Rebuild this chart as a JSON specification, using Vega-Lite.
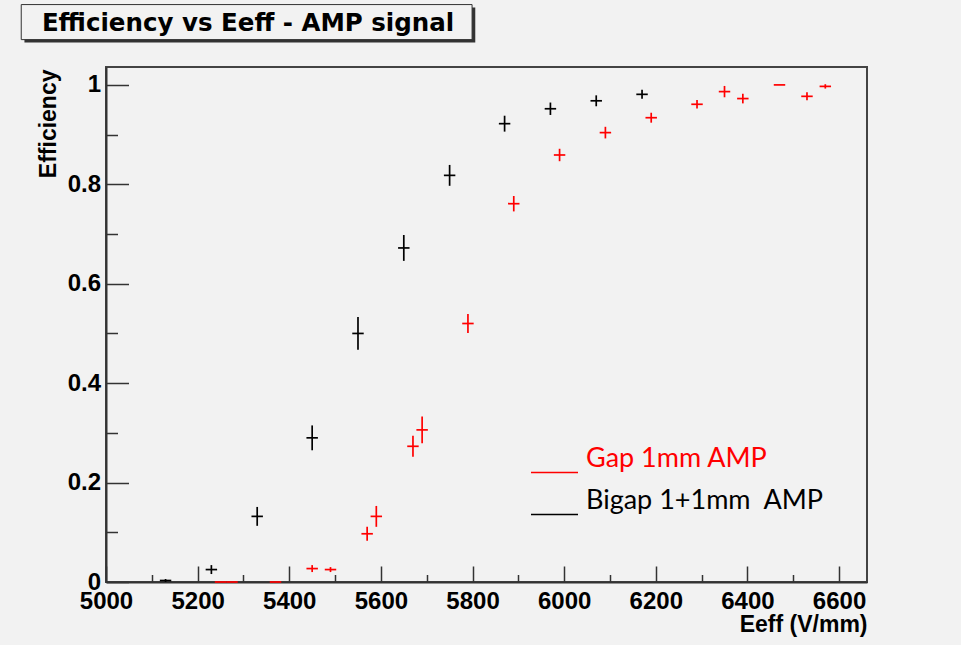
{
  "$schema": "https://vega.github.io/schema/vega-lite/v6.json",
  "width": 761,
  "height": 515,
  "autosize": {"type": "none"},
  "padding": {"left": 106, "top": 67, "right": 94, "bottom": 63},
  "background": "#f2f2f2",
  "config": {
    "view": {"stroke": "#444444", "strokeWidth": 2},
    "axis": {
      "grid": false,
      "labelFont": "Liberation Sans",
      "labelFontWeight": "bold",
      "labelFontSize": 24,
      "labelColor": "#000000",
      "labelFlush": false,
      "labelOverlap": false,
      "tickColor": "#333333",
      "tickWidth": 1.5,
      "domainColor": "#333333",
      "domainWidth": 2,
      "titleFont": "Liberation Sans",
      "titleFontWeight": "bold",
      "titleFontSize": 23,
      "titleColor": "#000000"
    }
  },
  "datasets": {
    "points": [
      {"series": "Bigap 1+1mm\u00a0 AMP", "E": 5130, "eff": 0.003, "ey": 0.003, "ex": 12.5},
      {"series": "Bigap 1+1mm\u00a0 AMP", "E": 5230, "eff": 0.025, "ey": 0.009, "ex": 12.5},
      {"series": "Bigap 1+1mm\u00a0 AMP", "E": 5330, "eff": 0.132, "ey": 0.019, "ex": 12.5},
      {"series": "Bigap 1+1mm\u00a0 AMP", "E": 5450, "eff": 0.290, "ey": 0.025, "ex": 12.5},
      {"series": "Bigap 1+1mm\u00a0 AMP", "E": 5550, "eff": 0.500, "ey": 0.033, "ex": 12.5},
      {"series": "Bigap 1+1mm\u00a0 AMP", "E": 5650, "eff": 0.672, "ey": 0.026, "ex": 12.5},
      {"series": "Bigap 1+1mm\u00a0 AMP", "E": 5750, "eff": 0.818, "ey": 0.021, "ex": 12.5},
      {"series": "Bigap 1+1mm\u00a0 AMP", "E": 5870, "eff": 0.922, "ey": 0.016, "ex": 12.5},
      {"series": "Bigap 1+1mm\u00a0 AMP", "E": 5970, "eff": 0.952, "ey": 0.0125, "ex": 12.5},
      {"series": "Bigap 1+1mm\u00a0 AMP", "E": 6070, "eff": 0.968, "ey": 0.011, "ex": 12.5},
      {"series": "Bigap 1+1mm\u00a0 AMP", "E": 6170, "eff": 0.981, "ey": 0.009, "ex": 12.5},
      {"series": "Gap 1mm AMP", "E": 5250, "eff": 0.0, "ey": 0.0, "ex": 12.5},
      {"series": "Gap 1mm AMP", "E": 5275, "eff": 0.0, "ey": 0.0, "ex": 12.5},
      {"series": "Gap 1mm AMP", "E": 5370, "eff": 0.0, "ey": 0.0, "ex": 12.5},
      {"series": "Gap 1mm AMP", "E": 5450, "eff": 0.027, "ey": 0.007, "ex": 12.5},
      {"series": "Gap 1mm AMP", "E": 5490, "eff": 0.025, "ey": 0.005, "ex": 12.5},
      {"series": "Gap 1mm AMP", "E": 5570, "eff": 0.097, "ey": 0.014, "ex": 12.5},
      {"series": "Gap 1mm AMP", "E": 5590, "eff": 0.132, "ey": 0.021, "ex": 12.5},
      {"series": "Gap 1mm AMP", "E": 5670, "eff": 0.273, "ey": 0.021, "ex": 12.5},
      {"series": "Gap 1mm AMP", "E": 5690, "eff": 0.306, "ey": 0.027, "ex": 12.5},
      {"series": "Gap 1mm AMP", "E": 5790, "eff": 0.520, "ey": 0.019, "ex": 12.5},
      {"series": "Gap 1mm AMP", "E": 5890, "eff": 0.761, "ey": 0.0155, "ex": 12.5},
      {"series": "Gap 1mm AMP", "E": 5990, "eff": 0.859, "ey": 0.0125, "ex": 12.5},
      {"series": "Gap 1mm AMP", "E": 6090, "eff": 0.904, "ey": 0.0117, "ex": 12.5},
      {"series": "Gap 1mm AMP", "E": 6190, "eff": 0.934, "ey": 0.010, "ex": 12.5},
      {"series": "Gap 1mm AMP", "E": 6290, "eff": 0.961, "ey": 0.0087, "ex": 12.5},
      {"series": "Gap 1mm AMP", "E": 6350, "eff": 0.9865, "ey": 0.0114, "ex": 12.5},
      {"series": "Gap 1mm AMP", "E": 6390, "eff": 0.9725, "ey": 0.0097, "ex": 12.5},
      {"series": "Gap 1mm AMP", "E": 6470, "eff": 1.0, "ey": 0.0, "ex": 12.5},
      {"series": "Gap 1mm AMP", "E": 6530, "eff": 0.977, "ey": 0.008, "ex": 12.5},
      {"series": "Gap 1mm AMP", "E": 6570, "eff": 0.997, "ey": 0.0044, "ex": 12.5}
    ]
  },
  "layer": [
    {
      "data": {"name": "points"},
      "mark": {"type": "errorbar", "thickness": 1.7},
      "encoding": {
        "x": {
          "field": "E",
          "type": "quantitative",
          "title": "Eeff (V/mm)",
          "scale": {"domain": [5000, 6661], "nice": false, "zero": false},
          "axis": {
            "values": [5000, 5050, 5100, 5150, 5200, 5250, 5300, 5350, 5400, 5450, 5500, 5550, 5600, 5650, 5700, 5750, 5800, 5850, 5900, 5950, 6000, 6050, 6100, 6150, 6200, 6250, 6300, 6350, 6400, 6450, 6500, 6550, 6600, 6650],
            "format": "d",
            "labelExpr": "datum.value % 200 == 0 ? datum.label : ''",
            "tickSize": {"condition": {"test": "datum.value % 200 == 0", "value": -16}, "value": -7.5},
            "labelPadding": 23,
            "titleAnchor": "end",
            "titleAlign": "right",
            "titleBaseline": "alphabetic",
            "titleX": 761,
            "titleY": 49.5
          }
        },
        "y": {
          "field": "eff",
          "type": "quantitative",
          "title": "Efficiency",
          "scale": {"domain": [0, 1.036], "nice": false, "zero": false},
          "axis": {
            "values": [0, 0.05, 0.1, 0.15, 0.2, 0.25, 0.3, 0.35, 0.4, 0.45, 0.5, 0.55, 0.6, 0.65, 0.7, 0.75, 0.8, 0.85, 0.9, 0.95, 1.0],
            "format": "~g",
            "labelExpr": "abs(datum.value * 5 - round(datum.value * 5)) < 0.001 ? datum.label : ''",
            "tickSize": {"condition": {"test": "abs(datum.value * 5 - round(datum.value * 5)) < 0.001", "value": -22.5}, "value": -11.5},
            "labelPadding": 28,
            "titleAngle": -90,
            "titleAlign": "right",
            "titleBaseline": "alphabetic",
            "titleX": -51,
            "titleY": 2
          }
        },
        "yError": {"field": "ey"},
        "color": {
          "field": "series",
          "type": "nominal",
          "scale": {"domain": ["Gap 1mm AMP", "Bigap 1+1mm\u00a0 AMP"], "range": ["#ff0000", "#000000"]},
          "legend": {
            "orient": "none",
            "legendX": 424,
            "legendY": 367,
            "title": null,
            "symbolType": "M-1,0.6H1",
            "symbolSize": 2209,
            "symbolStrokeWidth": 1.5,
            "symbolFillColor": "transparent",
            "labelFont": "Lato",
            "labelFontSize": 27,
            "labelOffset": 7,
            "labelLimit": 400,
            "rowPadding": -15,
            "encode": {"labels": {"update": {"fill": {"scale": "color", "field": "value"}}}}
          }
        }
      }
    },
    {
      "data": {"name": "points"},
      "mark": {"type": "errorbar", "thickness": 1.7},
      "encoding": {
        "x": {"field": "E", "type": "quantitative", "title": "Eeff (V/mm)"},
        "xError": {"field": "ex"},
        "y": {"field": "eff", "type": "quantitative", "title": "Efficiency"},
        "color": {"field": "series", "type": "nominal"}
      }
    },
    {
      "data": {"values": [{"part": "title shadow"}]},
      "mark": {"type": "rect", "color": "#333333", "clip": false},
      "encoding": {
        "x": {"datum": 4822, "type": "quantitative"},
        "x2": {"datum": 5806},
        "y": {"datum": 1.1556, "type": "quantitative"},
        "y2": {"datum": 1.0851}
      }
    },
    {
      "data": {"values": [{"part": "title box"}]},
      "mark": {"type": "rect", "fill": "#f2f2f2", "stroke": "#333333", "strokeWidth": 1, "clip": false},
      "encoding": {
        "x": {"datum": 4815, "type": "quantitative"},
        "x2": {"datum": 5799},
        "y": {"datum": 1.1616, "type": "quantitative"},
        "y2": {"datum": 1.0911}
      }
    },
    {
      "data": {"values": [{"title": "Efficiency vs Eeff - AMP signal"}]},
      "mark": {"type": "text", "align": "center", "baseline": "alphabetic", "font": "DejaVu Sans", "fontWeight": "bold", "fontSize": 24.5, "color": "#000000", "clip": false},
      "encoding": {
        "x": {"datum": 5310, "type": "quantitative"},
        "y": {"datum": 1.1079, "type": "quantitative"},
        "text": {"field": "title"}
      }
    }
  ]
}
